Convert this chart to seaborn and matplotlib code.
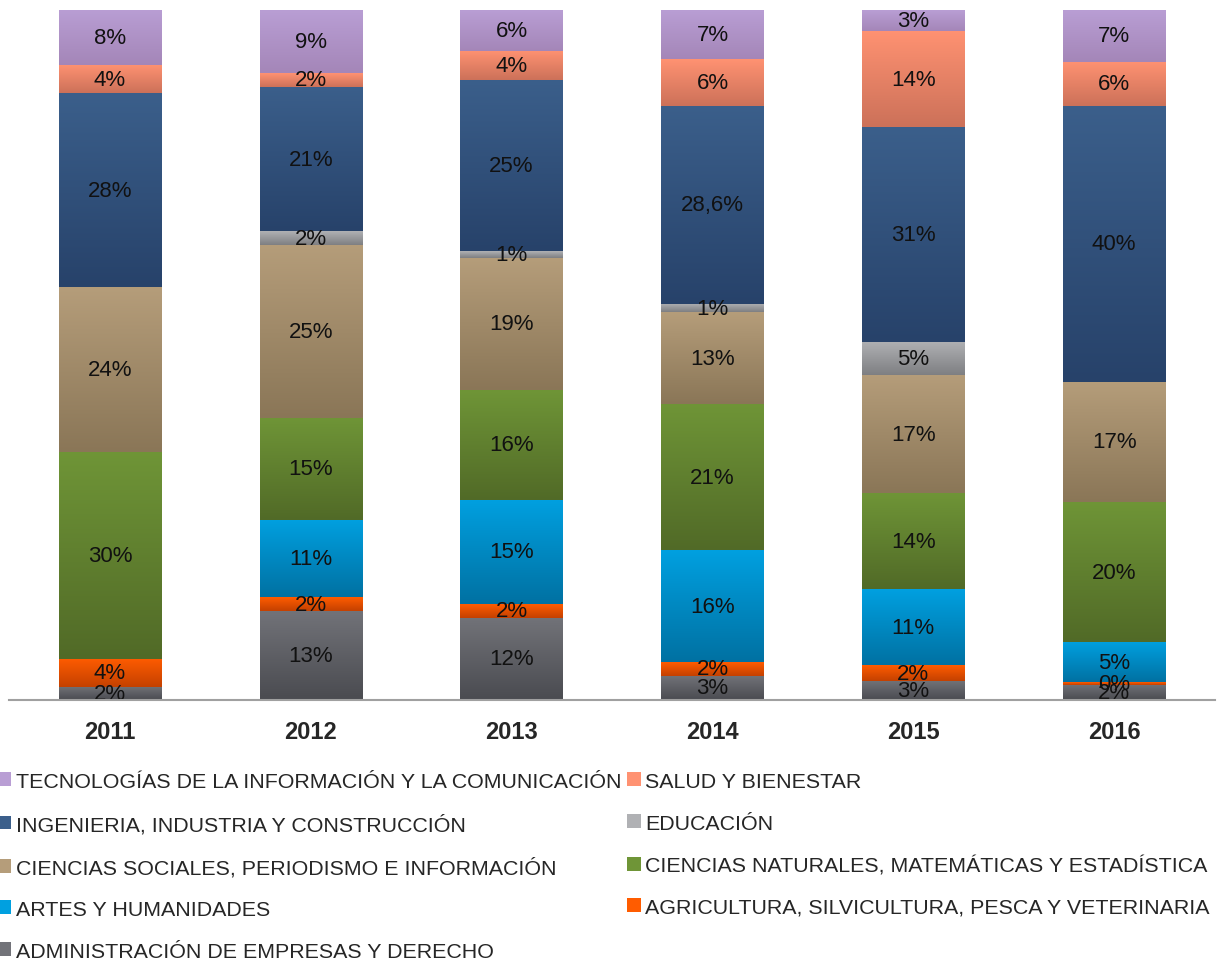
import matplotlib.pyplot as plt
import numpy as np
import pandas as pd
import seaborn as sns
from matplotlib.colors import LinearSegmentedColormap
from matplotlib.patches import Patch

ANOS = ["2011", "2012", "2013", "2014", "2015", "2016"]

# Areas, de baixo para cima na pilha
AREAS = [
    "ADMINISTRACIÓN DE EMPRESAS Y DERECHO",
    "AGRICULTURA, SILVICULTURA, PESCA Y VETERINARIA",
    "ARTES Y HUMANIDADES",
    "CIENCIAS NATURALES, MATEMÁTICAS Y ESTADÍSTICA",
    "CIENCIAS SOCIALES, PERIODISMO E INFORMACIÓN",
    "EDUCACIÓN",
    "INGENIERIA, INDUSTRIA Y CONSTRUCCIÓN",
    "SALUD Y BIENESTAR",
    "TECNOLOGÍAS DE LA INFORMACIÓN Y LA COMUNICACIÓN",
]

# Participacao (%), por ano
ADMIN = [1.9, 12.9, 11.9, 3.5, 2.8, 2.2]
AGRI = [4.1, 2.0, 2.0, 2.0, 2.2, 0.4]
ARTES = [0.0, 11.2, 15.1, 16.2, 11.0, 5.8]
NATURALES = [30.0, 14.8, 15.9, 21.2, 13.9, 20.3]
SOCIALES = [23.9, 25.1, 19.1, 13.3, 17.1, 17.4]
EDUCACION = [0.0, 1.9, 1.0, 1.2, 4.9, 0.0]
INGENIERIA = [28.0, 21.0, 24.8, 28.7, 31.0, 40.0]
SALUD = [4.1, 2.0, 4.2, 6.8, 14.0, 6.4]
TIC = [8.0, 9.1, 5.9, 7.1, 3.0, 7.5]

# Rotulos como aparecem no grafico original
ROT_ADMIN = ["2%", "13%", "12%", "3%", "3%", "2%"]
ROT_AGRI = ["4%", "2%", "2%", "2%", "2%", "0%"]
ROT_ARTES = ["", "11%", "15%", "16%", "11%", "5%"]
ROT_NATURALES = ["30%", "15%", "16%", "21%", "14%", "20%"]
ROT_SOCIALES = ["24%", "25%", "19%", "13%", "17%", "17%"]
ROT_EDUCACION = ["", "2%", "1%", "1%", "5%", ""]
ROT_INGENIERIA = ["28%", "21%", "25%", "28,6%", "31%", "40%"]
ROT_SALUD = ["4%", "2%", "4%", "6%", "14%", "6%"]
ROT_TIC = ["8%", "9%", "6%", "7%", "3%", "7%"]

# cor do topo e da base do degrade de cada area
CORES = [
    ("#727379", "#4a4b50"),
    ("#ff5c00", "#c44100"),
    ("#00a0e0", "#0071a2"),
    ("#6f9537", "#516a27"),
    ("#b59d7a", "#8a7657"),
    ("#b0b1b4", "#7e7f82"),
    ("#3b5f8b", "#27426a"),
    ("#ff9272", "#cc7159"),
    ("#b99ed4", "#a486b8"),
]

valores = [ADMIN, AGRI, ARTES, NATURALES, SOCIALES, EDUCACION, INGENIERIA, SALUD, TIC]
rotulos = [ROT_ADMIN, ROT_AGRI, ROT_ARTES, ROT_NATURALES, ROT_SOCIALES,
           ROT_EDUCACION, ROT_INGENIERIA, ROT_SALUD, ROT_TIC]

df = pd.DataFrame(np.array(valores).T, index=ANOS, columns=AREAS)
df = df.div(df.sum(axis=1), axis=0) * 100
acumulado = df.cumsum(axis=1)

sns.set_style("white")
plt.rcParams["font.family"] = ["Liberation Sans", "DejaVu Sans"]

fig = plt.figure(figsize=(12.17, 9.62), dpi=100)
ax = fig.add_axes([0.0078, 0.2713, 0.9902, 0.7173])

LARGURA = 0.51

# barras acumuladas, da mais alta para a mais baixa
for i in range(len(AREAS) - 1, -1, -1):
    dados = pd.DataFrame({"ano": ANOS, "valor": acumulado.iloc[:, i].values})
    sns.barplot(data=dados, x="ano", y="valor", color=CORES[i][1],
                width=LARGURA, saturation=1, ax=ax, linewidth=0, zorder=2)

# degrade vertical em cada segmento + rotulos
gradiente = np.linspace(1, 0, 256).reshape(-1, 1)
for i, area in enumerate(AREAS):
    cmap = LinearSegmentedColormap.from_list(f"g{i}", [CORES[i][1], CORES[i][0]])
    for j, ano in enumerate(ANOS):
        topo = acumulado.iloc[j, i]
        base = topo - df.iloc[j, i]
        if topo - base <= 0:
            continue
        ax.imshow(gradiente, cmap=cmap, aspect="auto", vmin=0, vmax=1,
                  extent=(j - LARGURA / 2, j + LARGURA / 2, base, topo),
                  zorder=3, interpolation="bilinear")
        if rotulos[i][j]:
            ax.text(j, (base + topo) / 2, rotulos[i][j], ha="center", va="center",
                    fontsize=16, color="#111111", zorder=5)

ax.set_xlim(-0.5, len(ANOS) - 0.5)
ax.set_ylim(0, 100)
ax.set_xlabel("")
ax.set_ylabel("")
ax.set_yticks([])
ax.tick_params(axis="x", length=0, pad=14.5)
for rotulo in ax.get_xticklabels():
    rotulo.set_fontweight("bold")
    rotulo.set_fontsize(17)
for lado in ["top", "left", "right"]:
    ax.spines[lado].set_visible(False)
ax.spines["bottom"].set_color("#a0a0a0")
ax.spines["bottom"].set_linewidth(1.5)
ax.spines["bottom"].set_zorder(6)

# legenda em duas colunas, do topo da pilha para baixo
ordem = [8, 6, 4, 2, 0, 7, 5, 3, 1]
alcas = [Patch(facecolor=CORES[k][0], edgecolor="none") for k in ordem]
nomes = [AREAS[k] for k in ordem]
fig.legend(alcas, nomes, loc="upper left", bbox_to_anchor=(-0.002, 0.1966),
           ncols=2, frameon=False, fontsize=15.4, handlelength=0.62,
           handleheight=0.62, handletextpad=0.22, columnspacing=0.3,
           labelspacing=1.06, borderaxespad=0, borderpad=0)

fig.savefig("out.png", dpi=100)
